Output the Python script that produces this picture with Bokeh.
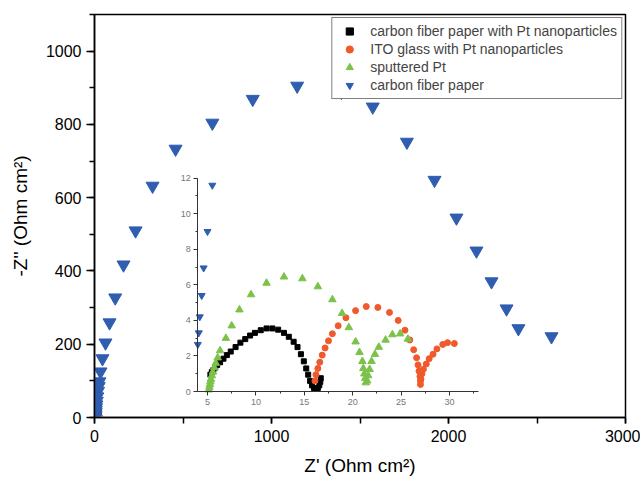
import numpy as np
from bokeh.plotting import figure
from bokeh.models import (Range1d, LinearAxis, SingleIntervalTicker, Legend, LegendItem,
                          ColumnDataSource, CDSView, BooleanFilter)
from bokeh.embed import file_html
from bokeh.resources import INLINE

# ---------------- data ----------------
# carbon fiber paper (blue, inverted triangles), Z' and -Z'' in Ohm cm2
cfp_x = [3.6, 3.8, 3.9, 4.0, 4.1, 4.2, 4.4, 4.6, 5.0, 5.5, 6.3, 7.5, 9, 11, 13, 16, 20, 24, 28,
         34, 45, 62, 85, 117, 164, 232, 328, 458, 666, 894, 1145, 1395, 1572, 1765, 1921,
         2045, 2158, 2243, 2328, 2395, 2582]
cfp_y = [0.5, 1.2, 1.9, 2.65, 3.3, 4.2, 5.4, 6.95, 9.0, 11.6, 15, 20, 27, 35, 45, 57, 72, 85, 98,
         125, 161, 204, 259, 327, 417, 510, 632, 733, 804, 869, 905, 888, 848, 752, 648,
         545, 455, 371, 297, 243, 221]

# carbon fiber paper with Pt nanoparticles (black squares)
cfpt_x = [5.3, 5.45, 5.6, 5.8, 6.0, 6.3, 6.65, 7.0, 7.4, 7.9, 8.4, 8.9, 9.4, 9.9, 10.5, 11.1,
          11.7, 12.3, 12.9, 13.4, 13.9, 14.3, 14.65, 14.95, 15.2, 15.4, 15.6, 15.8, 16.0,
          16.2, 16.4, 16.55, 16.65, 16.7]
cfpt_y = [0.95, 1.1, 1.2, 1.35, 1.5, 1.65, 1.85, 2.05, 2.25, 2.5, 2.75, 2.95, 3.15, 3.3, 3.45,
          3.55, 3.55, 3.48, 3.3, 3.08, 2.8, 2.5, 2.1, 1.7, 1.3, 0.95, 0.6, 0.35, 0.2, 0.15,
          0.2, 0.35, 0.55, 0.75]

# ITO glass with Pt nanoparticles (orange circles)
ito_x = [16.1, 16.2, 16.4, 16.6, 16.85, 17.15, 17.5, 17.9, 18.5, 19.3, 20.3, 21.4, 22.6, 23.8,
         24.7, 25.4, 25.9, 26.3, 26.6, 26.75, 26.85, 26.95, 27.0, 27.0, 27.05, 27.15, 27.3,
         27.6, 27.9, 28.3, 28.7, 29.3, 29.8, 30.5]
ito_y = [0.6, 0.95, 1.3, 1.65, 2.05, 2.45, 2.85, 3.25, 3.7, 4.15, 4.55, 4.78, 4.73, 4.45,
         4.0, 3.45, 2.9, 2.35, 1.9, 1.5, 1.15, 0.85, 0.6, 0.4, 0.7, 1.0, 1.25,
         1.55, 1.85, 2.1, 2.4, 2.65, 2.75, 2.7]

# sputtered Pt (green triangles)
spt_x = [5.15, 5.2, 5.25, 5.3, 5.35, 5.45, 5.55, 5.7, 5.85, 6.05, 6.3, 6.9, 7.5, 8.3, 9.5,
         11.1, 12.9, 14.8, 16.4, 17.9, 18.9, 19.6, 20.3, 20.7, 21.0, 21.1, 21.2, 21.3, 21.35,
         21.5, 21.6, 21.75, 21.95, 22.3, 22.7, 23.4, 24.1, 24.9, 25.7]
spt_y = [0.1, 0.25, 0.4, 0.55, 0.7, 0.9, 1.1, 1.35, 1.6, 1.9, 2.3, 3.0, 3.7, 4.6, 5.45,
         6.1, 6.45, 6.35, 5.9, 5.17, 4.4, 3.6, 2.8, 2.2, 1.7, 1.3, 1.0, 0.75, 0.5,
         0.6, 0.9, 1.25, 1.7, 2.1, 2.5, 2.9, 3.2, 3.25, 2.95]

labels = ["carbon fiber paper with Pt nanoparticles", "ITO glass with Pt nanoparticles",
          "sputtered Pt", "carbon fiber paper"]

# inset limits
inset_xlim = (4, 33)
inset_ylim = (0, 12)

BLACK = "#000000"
ORANGE = "#f0592b"
GREEN = "#7cc24a"
BLUE = "#2f5db0"
FONT = "Liberation Sans"

# frame placement (pixels within the figure)
fl, fr, ft, fb = 94, 625, 14, 418
W, H = 640, 478

# ---------------- figure ----------------
p = figure(width=W, height=H, x_range=Range1d(0, 3000), y_range=Range1d(0, 1100),
           output_backend="svg", toolbar_location=None,
           min_border_left=fl, min_border_right=W - fr, min_border_top=ft, min_border_bottom=H - fb,
           background_fill_color="white", border_fill_color="white")
p.grid.visible = False
p.outline_line_color = "black"
p.outline_line_width = 1.5
p.outline_line_alpha = 1.0

p.xaxis.ticker = SingleIntervalTicker(interval=1000, num_minor_ticks=2)
p.yaxis.ticker = SingleIntervalTicker(interval=200, num_minor_ticks=2)
for ax in (p.xaxis[0], p.yaxis[0]):
    ax.axis_line_width = 1.5
    ax.major_tick_line_width = 1.5
    ax.minor_tick_line_width = 1.5
    ax.major_tick_in = 0
    ax.minor_tick_in = 0
    ax.major_label_text_font = FONT
    ax.major_label_text_font_size = "16px"
    ax.major_label_text_color = "black"
    ax.axis_label_text_font = FONT
    ax.axis_label_text_font_size = "19px"
    ax.axis_label_text_font_style = "normal"
    ax.axis_label_text_color = "black"
p.xaxis.major_tick_out = 6
p.xaxis.minor_tick_out = 6
p.yaxis.major_tick_out = 8
p.yaxis.minor_tick_out = 5
p.xaxis.major_label_standoff = 6
p.yaxis.major_label_standoff = 5
p.xaxis.axis_label = "Z' (Ohm cm²)"
p.yaxis.axis_label = "-Z'' (Ohm cm²)"
p.xaxis.axis_label_standoff = 10
p.yaxis.axis_label_standoff = 12

# main renderers
r_black = p.scatter(cfpt_x, cfpt_y, marker="square", size=4, color=BLACK)
r_orange = p.scatter(ito_x, ito_y, marker="circle", size=5, color=ORANGE)
r_green = p.scatter(spt_x, spt_y, marker="triangle", size=6, color=GREEN)
r_blue = p.scatter(cfp_x, cfp_y, marker="inverted_triangle", size=13, color=BLUE)

# ---------------- inset (mapped to a sub-region of the frame) ----------------
# inset placement in pixels: x=5 -> 207, 9.68 px/unit; y=0 -> 392, 17.83 px/unit
sx, x5px = 9.68, 207
sy, y0px = 17.83, 392
p.extra_x_ranges["ix"] = Range1d(5 - (x5px - fl) / sx, 5 + (fr - x5px) / sx)
p.extra_y_ranges["iy"] = Range1d(-(fb - y0px) / sy, (y0px - ft) / sy)

ixa = LinearAxis(x_range_name="ix", y_range_name="iy", fixed_location=inset_ylim[0],
                 bounds=inset_xlim, ticker=SingleIntervalTicker(interval=5, num_minor_ticks=2))
iya = LinearAxis(x_range_name="ix", y_range_name="iy", fixed_location=inset_xlim[0],
                 bounds=inset_ylim, ticker=SingleIntervalTicker(interval=2, num_minor_ticks=2))
for ax in (ixa, iya):
    ax.axis_line_color = "#333333"
    ax.axis_line_width = 1
    ax.major_tick_line_color = "#333333"
    ax.minor_tick_line_color = "#333333"
    ax.major_tick_in = 0
    ax.major_tick_out = 4
    ax.minor_tick_in = 0
    ax.minor_tick_out = 2
    ax.major_label_text_font = FONT
    ax.major_label_text_font_size = "9px"
    ax.major_label_text_color = "#777777"
    ax.major_label_standoff = 3
p.add_layout(ixa, "below")
p.add_layout(iya, "left")

p.scatter(cfpt_x, cfpt_y, marker="square", size=5, color=BLACK, x_range_name="ix", y_range_name="iy")
p.scatter(ito_x, ito_y, marker="circle", size=6, color=ORANGE, x_range_name="ix", y_range_name="iy")
p.scatter(spt_x, spt_y, marker="triangle", size=7.5, color=GREEN, x_range_name="ix", y_range_name="iy")
bsrc = ColumnDataSource(dict(x=cfp_x, y=cfp_y))
bx, by = np.array(cfp_x), np.array(cfp_y)
mask = [bool(v) for v in ((bx >= inset_xlim[0]) & (by <= inset_ylim[1]))]
p.scatter("x", "y", source=bsrc, view=CDSView(filter=BooleanFilter(mask)),
          marker="inverted_triangle", size=7, color=BLUE, x_range_name="ix", y_range_name="iy")

# ---------------- legend ----------------
legend = Legend(items=[LegendItem(label=labels[0], renderers=[r_black]),
                       LegendItem(label=labels[1], renderers=[r_orange]),
                       LegendItem(label=labels[2], renderers=[r_green]),
                       LegendItem(label=labels[3], renderers=[r_blue])],
                location="top_right", margin=3, padding=4, spacing=0,
                glyph_width=26, glyph_height=18, label_height=17, label_standoff=8,
                label_text_font=FONT, label_text_font_size="14px",
                border_line_color="black", border_line_width=1.2,
                background_fill_alpha=1.0)
p.add_layout(legend, "center")

open("out.html", "w").write(file_html(p, INLINE))
